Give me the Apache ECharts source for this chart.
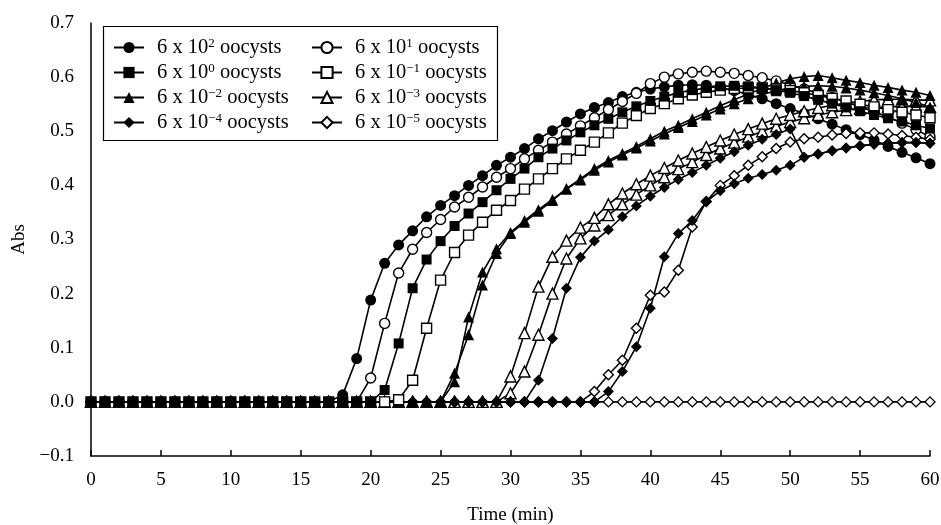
<!DOCTYPE html>
<html><head><meta charset="utf-8">
<script src="https://cdn.jsdelivr.net/npm/echarts@6/dist/echarts.min.js"></script>
<style>html,body{margin:0;padding:0;background:#fff}#c{width:941px;height:525px}</style>
</head><body><div id="c"></div>
<script>
const time = [0,1,2,3,4,5,6,7,8,9,10,11,12,13,14,15,16,17,18,19,20,21,22,23,24,25,26,27,28,29,30,31,32,33,34,35,36,37,38,39,40,41,42,43,44,45,46,47,48,49,50,51,52,53,54,55,56,57,58,59,60];

// 6 x 10^2 (filled circle)
const abs_e2 = [0,0,0,0,0,0,0,0,0,0, 0,0,0,0,0,0,0,0,0.013,0.08,
  0.188,0.256,0.29,0.316,0.342,0.363,0.381,0.4,0.418,0.437,
  0.452,0.468,0.486,0.501,0.517,0.532,0.544,0.553,0.564,0.572,
  0.578,0.582,0.585,0.586,0.585,0.581,0.575,0.568,0.56,0.551,
  0.542,0.533,0.523,0.513,0.503,0.494,0.484,0.472,0.461,0.451,0.44];
// 6 x 10^1 (open circle)
const abs_e1 = [0,0,0,0,0,0,0,0,0,0, 0,0,0,0,0,0,0,0,0,0,
  0.044,0.145,0.238,0.282,0.313,0.337,0.36,0.378,0.397,0.415,
  0.431,0.449,0.465,0.48,0.495,0.51,0.525,0.54,0.555,0.57,
  0.588,0.6,0.606,0.609,0.611,0.609,0.607,0.603,0.599,0.593,
  0.586,0.578,0.57,0.562,0.554,0.545,0.536,0.526,0.515,0.503,0.49];
// 6 x 10^0 (filled square)
const abs_e0 = [0,0,0,0,0,0,0,0,0,0, 0,0,0,0,0,0,0,0,0,0,
  0,0.022,0.108,0.21,0.263,0.297,0.325,0.348,0.369,0.391,
  0.412,0.431,0.452,0.468,0.483,0.498,0.511,0.523,0.535,0.546,
  0.556,0.564,0.571,0.576,0.58,0.583,0.584,0.583,0.58,0.576,
  0.571,0.565,0.558,0.551,0.544,0.537,0.53,0.524,0.518,0.511,0.505];
// 6 x 10^-1 (open square)
const abs_em1 = [0,0,0,0,0,0,0,0,0,0, 0,0,0,0,0,0,0,0,0,0,
  0,0,0.004,0.04,0.136,0.225,0.276,0.308,0.332,0.354,
  0.372,0.393,0.412,0.431,0.449,0.465,0.48,0.497,0.515,0.529,
  0.542,0.551,0.56,0.567,0.572,0.576,0.579,0.58,0.58,0.578,
  0.575,0.571,0.566,0.561,0.556,0.55,0.545,0.54,0.535,0.53,0.525];
// 6 x 10^-2 (filled triangle), two runs
const abs_em2 = [0,0,0,0,0,0,0,0,0,0, 0,0,0,0,0,0,0,0,0,0,
  0,0,0,0,0,0,0.053,0.124,0.216,0.274,
  0.311,0.332,0.352,0.372,0.394,0.412,0.431,0.446,0.459,0.472,
  0.486,0.5,0.511,0.523,0.535,0.547,0.558,0.569,0.579,0.589,
  0.597,0.601,0.603,0.599,0.594,0.59,0.585,0.581,0.576,0.572,0.566];
const abs_em2b = [0,0,0,0,0,0,0,0,0,0, 0,0,0,0,0,0,0,0,0,0,
  0,0,0,0,0,0,0.037,0.157,0.24,0.283,
  0.313,0.335,0.355,0.374,0.393,0.41,0.428,0.443,0.456,0.469,
  0.482,0.495,0.507,0.518,0.53,0.541,0.551,0.56,0.568,0.575,
  0.58,0.583,0.584,0.583,0.58,0.576,0.571,0.566,0.56,0.553,0.545];
// 6 x 10^-3 (open triangle), two runs
const abs_em3 = [0,0,0,0,0,0,0,0,0,0, 0,0,0,0,0,0,0,0,0,0,
  0,0,0,0,0,0,0,0,0,0,
  0.047,0.127,0.213,0.268,0.298,0.322,0.34,0.365,0.385,0.402,
  0.418,0.432,0.446,0.459,0.471,0.483,0.494,0.504,0.514,0.523,
  0.53,0.537,0.543,0.548,0.552,0.555,0.558,0.559,0.559,0.558,0.557];
const abs_em3b = [0,0,0,0,0,0,0,0,0,0, 0,0,0,0,0,0,0,0,0,0,
  0,0,0,0,0,0,0,0,0,0,
  0.016,0.056,0.124,0.2,0.265,0.302,0.326,0.345,0.365,0.383,
  0.4,0.415,0.43,0.443,0.456,0.468,0.479,0.49,0.5,0.509,
  0.517,0.524,0.53,0.535,0.539,0.542,0.544,0.545,0.546,0.546,0.545];
// 6 x 10^-4 (filled diamond), two runs
const abs_em4 = [0,0,0,0,0,0,0,0,0,0, 0,0,0,0,0,0,0,0,0,0,
  0,0,0,0,0,0,0,0,0,0,
  0,0,0.04,0.117,0.21,0.267,0.297,0.318,0.342,0.362,
  0.38,0.396,0.411,0.424,0.437,0.45,0.462,0.474,0.485,0.494,
  0.504,0.452,0.458,0.464,0.469,0.473,0.476,0.478,0.479,0.479,0.478];
const abs_em4b = [0,0,0,0,0,0,0,0,0,0, 0,0,0,0,0,0,0,0,0,0,
  0,0,0,0,0,0,0,0,0,0,
  0,0,0,0,0,0,0,0.019,0.056,0.102,
  0.173,0.268,0.311,0.335,0.37,0.39,0.403,0.413,0.42,0.428,
  0.437,0.452,0.458,0.464,0.469,0.473,0.476,0.478,0.479,0.479,0.478];
// 6 x 10^-5 (open diamond) and the flat run
const abs_em5 = [0,0,0,0,0,0,0,0,0,0, 0,0,0,0,0,0,0,0,0,0,
  0,0,0,0,0,0,0,0,0,0,
  0,0,0,0,0,0,0.019,0.05,0.077,0.136,
  0.197,0.203,0.243,0.323,0.37,0.4,0.418,0.437,0.453,0.468,
  0.48,0.486,0.489,0.493,0.496,0.497,0.497,0.495,0.492,0.489,0.485];
const abs_flat = [0,0,0,0,0,0,0,0,0,0, 0,0,0,0,0,0,0,0,0,0,
  0,0,0,0,0,0,0,0,0,0, 0,0,0,0,0,0,0,0,0,0,
  0,0,0,0,0,0,0,0,0,0, 0,0,0,0,0,0,0,0,0,0,0];

const legendNames = ['6 x 10^2 oocysts','6 x 10^1 oocysts','6 x 10^0 oocysts','6 x 10^\u22121 oocysts',
  '6 x 10^\u22122 oocysts','6 x 10^\u22123 oocysts','6 x 10^\u22124 oocysts','6 x 10^\u22125 oocysts'];

const FONT = 'Liberation Serif';
function pairs(vals){ return time.map((t,i)=>[t, vals[i]]); }
function mk(name, vals, symbol, filled, size){
  return {name:name, type:'line', data:pairs(vals), symbol:symbol, symbolSize:size, showSymbol:true,
    showAllSymbol:true, animation:false,
    lineStyle:{color:'#000', width:1.6},
    itemStyle:{color: filled ? '#000' : '#fff', borderColor:'#000', borderWidth: filled ? 0 : 1.4},
    emphasis:{disabled:true}};
}

const series = [
  mk(legendNames[0], abs_e2, 'circle', true, 11),
  mk(legendNames[1], abs_e1, 'circle', false, 10),
  mk('rep b 10^-3', abs_em3b, 'triangle', false, 11),
  mk(legendNames[5], abs_em3, 'triangle', false, 11),
  mk('rep b 10^-2', abs_em2b, 'triangle', true, 11),
  mk(legendNames[4], abs_em2, 'triangle', true, 11),
  mk('flat', abs_flat, 'diamond', false, 10),
  mk(legendNames[7], abs_em5, 'diamond', false, 10),
  mk('rep b 10^-4', abs_em4b, 'diamond', true, 11),
  mk(legendNames[6], abs_em4, 'diamond', true, 11),
  mk(legendNames[3], abs_em1, 'rect', false, 10),
  mk(legendNames[2], abs_e0, 'rect', true, 10)
];

const chart = echarts.init(document.getElementById('c'), null, {renderer:'canvas'});
chart.setOption({
  animation:false,
  backgroundColor:'#fff',
  grid:{left:91, right:11, top:23, bottom:69, containLabel:false, outerBoundsMode:'none'},
  xAxis:{type:'value', min:0, max:60, interval:5,
    name:'Time (min)', nameLocation:'middle', nameGap:50,
    nameTextStyle:{fontFamily:FONT, fontSize:19, color:'#000'},
    axisLine:{onZero:false, lineStyle:{color:'#000', width:1.5}},
    axisTick:{show:true, inside:true, length:6, lineStyle:{color:'#000', width:1.5}},
    axisLabel:{fontFamily:FONT, fontSize:19, color:'#000', margin:15},
    splitLine:{show:false}},
  yAxis:{type:'value', min:-0.1, max:0.7, interval:0.1,
    name:'Abs', nameLocation:'middle', nameGap:54, nameRotate:90,
    nameTextStyle:{fontFamily:FONT, fontSize:19, color:'#000'},
    axisLine:{show:true, onZero:false, lineStyle:{color:'#000', width:1.5}},
    axisTick:{show:false},
    axisLabel:{fontFamily:FONT, fontSize:19, color:'#000', margin:17,
      formatter:function(v){ if (Math.abs(v) < 1e-9) return '0.0'; return v < 0 ? '\u2212' + (-v).toFixed(1) : v.toFixed(1); }},
    splitLine:{show:false}},
  legend:{data:legendNames, left:113, top:37, width:400, orient:'horizontal',
    itemWidth:30, itemHeight:14, itemGap:4, selectedMode:false, padding:0,
    textStyle:{fontFamily:FONT, fontSize:20.5, color:'#000', width:150, lineHeight:20, padding:[0,0,0,8],
      rich:{sup:{fontFamily:FONT, fontSize:13, color:'#000', verticalAlign:'top', lineHeight:20}}},
    formatter:function(n){ return n.replace(/\^(\S+)/, '{sup|$1}'); }},
  graphic:[{type:'rect', left:101, top:24, shape:{width:394, height:114},
    style:{fill:'none', stroke:'#000', lineWidth:1.2}, silent:true}],
  series:series
});
</script></body></html>
